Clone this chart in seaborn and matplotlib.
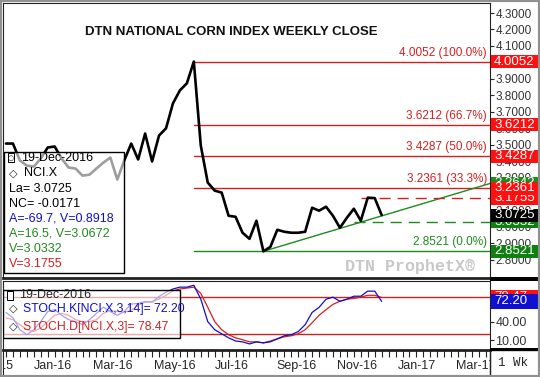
import numpy as np
import pandas as pd
import matplotlib
matplotlib.use("Agg")
import matplotlib.pyplot as plt
import matplotlib.transforms as mtrans
from matplotlib.patches import Rectangle
import seaborn as sns

# weekly closes, DTN National Corn Index
weeks = pd.date_range("2015-12-07", "2016-12-19", freq="7D")
close = [3.507, 3.507, 3.404, 3.373, 3.367, 3.416, 3.483, 3.489, 3.416, 3.361,
         3.355, 3.312, 3.318, 3.355, 3.391, 3.422, 3.288, 3.404, 3.507, 3.410,
         3.568, 3.398, 3.556, 3.599, 3.751, 3.830, 3.873, 4.0052, 3.495, 3.270,
         3.221, 3.209, 3.068, 3.062, 2.965, 2.928, 3.038, 2.8521, 2.879, 2.983,
         2.971, 2.965, 2.965, 2.971, 3.117, 3.099, 3.123, 3.068, 2.995, 3.056,
         3.111, 3.038, 3.178, 3.1755, 3.0725]
stoch_k = [54.6, 46, 27, 19, 27, 40, 56, 59, 50, 43,
           40, 35, 43, 53, 63, 56, 50, 56, 68, 69,
           72, 71, 80, 87, 92, 95, 95, 98, 76, 40,
           27, 20.5, 14, 9, 7.6, 4.3, 7.6, 6, 7.6, 12.4,
           17.3, 19, 24, 35, 54.6, 62.7, 75.7, 79, 72.4, 75.7,
           80.5, 80.5, 88.6, 88.6, 72.20]
stoch_d = [46, 43, 35, 27, 24, 30, 40, 50, 53, 50,
           43, 40, 40, 43, 53, 58, 56, 55, 58, 66,
           71, 72, 76, 82, 89, 92, 93.5, 95, 85, 63,
           40, 27, 19, 14, 11, 7.6, 7.6, 6, 9, 12.4,
           15.7, 17.3, 20.5, 27, 38, 50, 59, 67.5, 72.4, 75.7,
           77, 79, 82, 82, 78.47]

fib_levels = [4.0052, 3.6212, 3.4287, 3.2361, 2.8521]
fib_labels = ["4.0052 (100.0%)", "3.6212 (66.7%)", "3.4287 (50.0%)",
              "3.2361 (33.3%)", "2.8521 (0.0%)"]
fib_start = pd.Timestamp("2016-06-13")
trend_pts = [(pd.Timestamp("2016-08-22"), 2.8521), (pd.Timestamp("2016-12-19"), 3.0672)]
support_v, support_start = 3.0332, pd.Timestamp("2016-11-21")
resist_v, resist_start = 3.1755, pd.Timestamp("2016-11-28")

price_ticks = np.round(np.arange(2.8, 4.31, 0.1), 1)
stoch_ticks = [10, 40, 70]
month_labels = ["Nov-15", "Jan-16", "Mar-16", "May-16", "Jul-16", "Sep-16",
                "Nov-16", "Jan-17", "Mar-17"]
month_dates = pd.to_datetime(["2015-11-01", "2016-01-01", "2016-03-01", "2016-05-01",
                              "2016-07-01", "2016-09-01", "2016-11-01", "2017-01-01",
                              "2017-03-01"])

RED = "#d42020"
GREEN = "#1f8a1f"
BLUE = "#1010c8"

sns.set_style("white")
plt.rcParams["font.family"] = ["Liberation Sans", "DejaVu Sans"]

W, H = 540, 377
fig = plt.figure(figsize=(5.4, 3.77), dpi=100)


def box(x0, y0, x1, y1):
    # pixel box (from top-left) -> figure fraction rect
    return [x0 / W, 1 - y1 / H, (x1 - x0) / W, (y1 - y0) / H]


ax = fig.add_axes(box(3, 3, 490, 278))
ax2 = fig.add_axes(box(3, 281, 490, 350))
ax3 = fig.add_axes(box(3, 350, 490, 377))

xlim = (pd.Timestamp("2015-12-04"), pd.Timestamp("2017-04-07"))
span_days = (xlim[1] - xlim[0]).days


def xfrac(d):
    return (pd.Timestamp(d) - xlim[0]).days / span_days


# ---- main price panel
sns.lineplot(x=weeks, y=close, ax=ax, color="black", lw=1.9, zorder=3)
for lvl, lab in zip(fib_levels, fib_labels):
    c = GREEN if lvl == fib_levels[-1] else RED
    ax.plot([fib_start, xlim[1]], [lvl, lvl], color=c, lw=1.0, zorder=2)
    ax.text(0.994, lvl + 0.018, lab, transform=ax.get_yaxis_transform(), ha="right",
            va="bottom", fontsize=8.5, color=c, zorder=4)

(t0, v0), (t1, v1) = trend_pts
slope = (v1 - v0) / (t1 - t0).days
trend_end = v0 + slope * (xlim[1] - t0).days
ax.plot([t0, xlim[1]], [v0, trend_end], color=GREEN, lw=1.0, zorder=2)
ax.plot([support_start, xlim[1]], [support_v, support_v], color=GREEN, lw=1.0,
        dashes=(8, 5), zorder=2)
ax.plot([resist_start, xlim[1]], [resist_v, resist_v], color=RED, lw=1.0,
        dashes=(8, 5), zorder=2)

ax.set_xlim(xlim)
ax.set_ylim(2.690, 4.361)
ax.yaxis.tick_right()
ax.set_yticks(price_ticks)
ax.set_yticklabels([f"{t:.4f}" for t in price_ticks])
ax.tick_params(axis="y", length=3, pad=1, labelsize=8.5, labelcolor="#333333",
               direction="out", right=True)
ax.set_xticks([])
ax.set_xlabel("")
ax.set_ylabel("")
for s in ax.spines.values():
    s.set_color("#222222")
ax.spines["bottom"].set_linewidth(2)

fig.text(231 / W, 1 - 32 / H, "DTN NATIONAL CORN INDEX WEEKLY CLOSE", ha="center",
         va="center", fontsize=9.5, fontweight="bold", color="#111111")
ax.text(0.97, 0.04, "DTN ProphetX\u00ae", transform=ax.transAxes, ha="right", va="center",
        fontsize=12, family="Liberation Mono", fontweight="bold", color="#c8c8c8")

tag_z = [10]


def tag(a, y, text, fc, h):
    # coloured value tag on the right price scale, later tags drawn on top
    z = tag_z[0]
    tag_z[0] += 2
    tr = mtrans.blended_transform_factory(fig.transFigure, a.transData)
    a.add_patch(Rectangle((491 / W, y - h / 2), 49 / W, h, transform=tr, fc=fc, ec="none",
                          clip_on=False, zorder=z))
    a.text(494 / W, y, text, transform=tr, color="white", fontsize=9.5, va="center",
           ha="left", clip_on=False, zorder=z + 1)


ph = 13 / 164
tag(ax, trend_end, f"{trend_end:.4f}", GREEN, ph)
tag(ax, resist_v, f"{resist_v:.4f}", "#ff1010", ph)
for lvl in fib_levels[:-1]:
    tag(ax, lvl, f"{lvl:.4f}", "#ff1010", ph)
tag(ax, support_v, f"{support_v:.4f}", "#108010", ph)
tag(ax, close[-1], f"{close[-1]:.4f}", "black", ph)
tag(ax, fib_levels[-1], f"{fib_levels[-1]:.4f}", "#108010", ph)

# legend box, main panel
ax.add_patch(Rectangle((0.002, 0.018), 0.246, 0.442, transform=ax.transAxes,
                       fc=(1, 1, 1, 0.62), ec="black", lw=1, zorder=7))
ax.add_patch(Rectangle((0.01, 0.423), 0.012, 0.03, transform=ax.transAxes,
                       fc="white", ec="black", lw=0.7, zorder=8))
ax.text(0.016, 0.438, "\u25cb", transform=ax.transAxes, fontsize=5, ha="center",
        va="center", zorder=9, family="DejaVu Sans")
legend_lines = [
    (0.037, 0.438, "19-Dec-2016", "black"),
    (0.044, 0.380, "NCI.X", "black"),
    (0.012, 0.325, f"La= {close[-1]:.4f}", "black"),
    (0.012, 0.270, "NC= -0.0171", "black"),
    (0.012, 0.215, "A=-69.7, V=0.8918", BLUE),
    (0.012, 0.161, f"A=16.5, V={v1:.4f}", GREEN),
    (0.012, 0.106, f"V={support_v:.4f}", GREEN),
    (0.012, 0.051, f"V={resist_v:.4f}", RED),
]
for x, y, s, c in legend_lines:
    ax.text(x, y, s, transform=ax.transAxes, fontsize=9, color=c, va="center", zorder=9)
ax.text(0.021, 0.380, "\u25c7", transform=ax.transAxes, fontsize=8, ha="center",
        va="center", zorder=9, family="DejaVu Sans")

# ---- stochastic panel
sns.lineplot(x=weeks, y=stoch_d, ax=ax2, color=RED, lw=0.9, zorder=3)
sns.lineplot(x=weeks, y=stoch_k, ax=ax2, color=BLUE, lw=0.9, zorder=3)
for lvl in (80, 20):
    ax2.axhline(lvl, color=RED, lw=1.0, zorder=2)
ax2.set_xlim(xlim)
ax2.set_ylim(-5.4, 104.8)
ax2.yaxis.tick_right()
ax2.set_yticks(stoch_ticks)
ax2.set_yticklabels([f"{t:.2f}" for t in stoch_ticks])
ax2.tick_params(axis="y", length=3, pad=1, labelsize=9, labelcolor="#333333", right=True)
ax2.set_xticks([])
ax2.set_xlabel("")
ax2.set_ylabel("")
for s in ax2.spines.values():
    s.set_color("#222222")

sh = 14 / 0.617
tag(ax2, stoch_d[-1], f"{stoch_d[-1]:.2f}", "#ff1010", sh)
tag(ax2, stoch_k[-1], f"{stoch_k[-1]:.2f}", "#1010d0", sh)

ax2.add_patch(Rectangle((0.0, 0.176), 0.363, 0.692, transform=ax2.transAxes,
                        fc=(1, 1, 1, 0.62), ec="black", lw=1, zorder=7))
ax2.add_patch(Rectangle((0.008, 0.73), 0.012, 0.12, transform=ax2.transAxes,
                        fc="white", ec="black", lw=0.7, zorder=8))
ax2.text(0.033, 0.79, "19-Dec-2016", transform=ax2.transAxes, fontsize=9, va="center",
         zorder=9)
ax2.text(0.041, 0.60, f"STOCH.K[NCI.X,3,14]= {stoch_k[-1]:.2f}", transform=ax2.transAxes,
         fontsize=8.8, color=BLUE, va="center", zorder=9)
ax2.text(0.041, 0.34, f"STOCH.D[NCI.X,3]= {stoch_d[-1]:.2f}", transform=ax2.transAxes,
         fontsize=8.8, color=RED, va="center", zorder=9)
for yy in (0.60, 0.34):
    ax2.text(0.02, yy, "\u25c7", transform=ax2.transAxes, fontsize=8, ha="center",
             va="center", zorder=9, family="DejaVu Sans")

# ---- date strip (positions in axes fraction)
ax3.set_xlim(0, 1)
ax3.set_ylim(0, 1)
ax3.set_yticks([])
tick_weeks = pd.date_range("2015-12-07", "2017-04-03", freq="W-MON")
ax3.set_xticks([xfrac(d) for d in tick_weeks])
ax3.set_xticklabels([])
ax3.tick_params(axis="x", direction="in", top=True, bottom=False, length=5,
                width=0.8, color="#222222")
for d, lab in zip(month_dates, month_labels):
    ax3.text(xfrac(d + pd.Timedelta(days=3)), 0.4, lab, fontsize=9,
             va="center", ha="left", clip_on=True)
for s in ax3.spines.values():
    s.set_color("#222222")
ax3.spines["top"].set_linewidth(2)

fig.text(513 / W, 1 - 363 / H, "1 Wk", ha="center", va="center", fontsize=9,
         family="Liberation Mono")
fig.patches.append(Rectangle((490 / W, 0), 50 / W, 27 / H, transform=fig.transFigure,
                             fill=False, ec="#222222", lw=1))
# dark separator bars on the price scale
fig.patches.append(Rectangle((490 / W, 1 - 281 / H), 50 / W, 4 / H,
                             transform=fig.transFigure, fc="black", ec="none"))
fig.patches.append(Rectangle((490 / W, 1 - 351 / H), 50 / W, 3 / H,
                             transform=fig.transFigure, fc="black", ec="none"))
fig.patches.append(Rectangle((0, 0), 1, 1, transform=fig.transFigure, fill=False,
                             ec="#909090", lw=3))

fig.savefig("out.png", dpi=100)
